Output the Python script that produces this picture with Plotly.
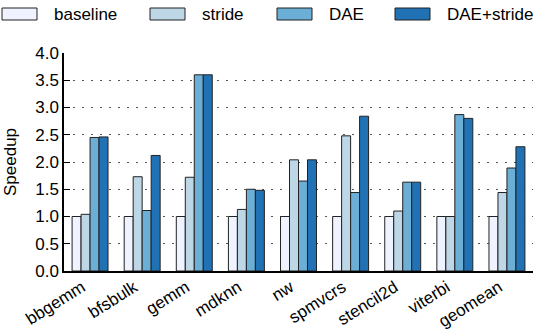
import plotly.graph_objects as go

categories = ["bbgemm", "bfsbulk", "gemm", "mdknn", "nw", "spmvcrs", "stencil2d", "viterbi", "geomean"]
series_names = ["baseline", "stride", "DAE", "DAE+stride"]
baseline = [1.0, 1.0, 1.0, 1.0, 1.0, 1.0, 1.0, 1.0, 1.0]
stride = [1.04, 1.73, 1.72, 1.13, 2.04, 2.48, 1.10, 1.0, 1.44]
dae = [2.45, 1.11, 3.60, 1.50, 1.65, 1.44, 1.63, 2.87, 1.89]
dae_stride = [2.46, 2.12, 3.60, 1.48, 2.04, 2.84, 1.63, 2.80, 2.28]
colors = ["#eff3ff", "#bdd7e7", "#6baed6", "#2171b5"]

FONT = "Liberation Sans, Arial, sans-serif"
FS = 17
fig = go.Figure()
for name, vals, c in zip(series_names, [baseline, stride, dae, dae_stride], colors):
    fig.add_trace(go.Bar(x=categories, y=vals, name=name, marker_color=c,
                         marker_line=dict(color="#222222", width=1), showlegend=False))

W, H = 539, 331
ml, mr, mt, mb = 64, 6, 53, 60
pw = W - ml - mr
ph = H - mt - mb

def px2paper_x(px):
    return (px - ml) / pw

def py2paper_y(py):
    return (H - mb - py) / ph

shapes = []
annotations = []
leg_x = [2, 150, 277, 395]
for lx, name, c in zip(leg_x, series_names, colors):
    shapes.append(dict(type="rect", xref="paper", yref="paper",
                       x0=px2paper_x(lx), x1=px2paper_x(lx + 35),
                       y0=py2paper_y(20), y1=py2paper_y(8),
                       fillcolor=c, line=dict(color="#222222", width=1)))
    annotations.append(dict(xref="paper", yref="paper", x=px2paper_x(lx + 50), y=py2paper_y(14),
                            text=name, showarrow=False, xanchor="left", yanchor="middle",
                            font=dict(family=FONT, size=FS, color="black")))

fig.update_layout(
    width=W, height=H, margin=dict(l=ml, r=mr, t=mt, b=mb, autoexpand=False),
    barmode="group", bargap=0.31, bargroupgap=0,
    plot_bgcolor="white", paper_bgcolor="white",
    font=dict(family=FONT, size=FS, color="black"),
    shapes=shapes, annotations=annotations,
    xaxis=dict(showline=True, linecolor="black", linewidth=2, ticks="", tickangle=-32,
               ticklabelshift=-8, ticklabelstandoff=-2,
               automargin=False, range=[-0.5, 8.5], tickfont=dict(size=FS)),
    yaxis=dict(range=[0, 4], dtick=0.5, tickformat=".1f", showline=True, linecolor="black",
               linewidth=1.5, showgrid=True, gridcolor="#555555", griddash="2px,7px", gridwidth=1,
               zeroline=False, ticks="inside", ticklen=6, tickcolor="black", tickwidth=1,
               automargin=False,
               title=dict(text="Speedup", font=dict(size=FS), standoff=14),
               tickfont=dict(size=FS)),
)
fig.write_html("out.html")
